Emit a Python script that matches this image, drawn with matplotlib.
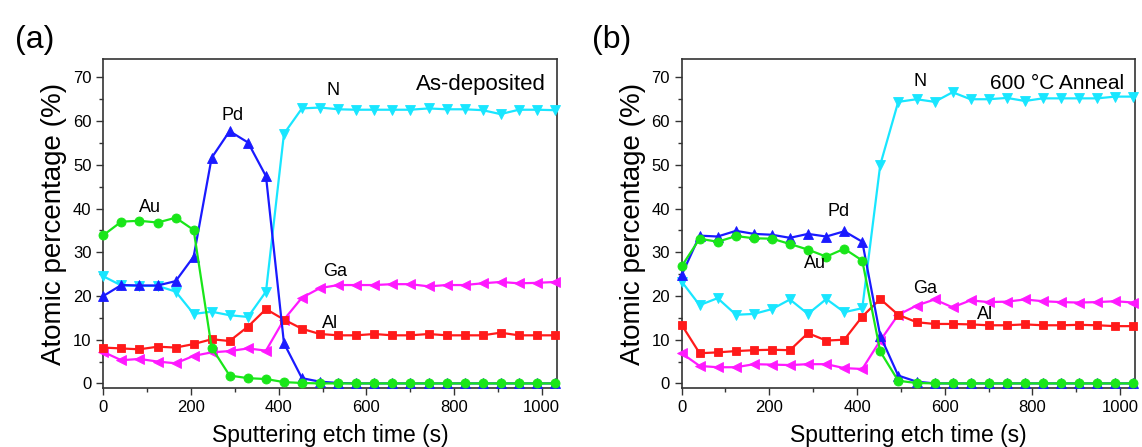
import matplotlib
matplotlib.use("Agg")
import matplotlib.pyplot as plt
from matplotlib.ticker import MultipleLocator

plt.rcParams['font.family'] = ['Liberation Sans', 'DejaVu Sans']

# ---- data ----
time_s = [0, 41, 82, 124, 165, 206, 247, 288, 330, 371, 412, 453, 494,
          536, 577, 618, 659, 700, 742, 783, 824, 865, 906, 948, 989, 1030]

# (a) As-deposited
au_a = [33.9, 37.0, 37.2, 36.8, 37.9, 35.1, 8.2, 1.8, 1.2, 1.0, 0.3, 0.1, 0,
        0, 0, 0, 0, 0, 0, 0, 0, 0, 0, 0, 0, 0]
pd_a = [20.0, 22.5, 22.4, 22.4, 23.4, 29.0, 51.6, 57.7, 55.1, 47.4, 9.2, 1.2, 0.4,
        0.1, 0, 0, 0, 0, 0, 0, 0, 0, 0, 0, 0, 0]
n_a = [24.5, 22.4, 22.3, 22.3, 21.0, 15.9, 16.4, 15.6, 15.2, 21.0, 57.1, 62.9, 63.1,
       62.7, 62.6, 62.6, 62.6, 62.6, 62.9, 62.7, 62.7, 62.5, 61.6, 62.6, 62.6, 62.5]
ga_a = [7.2, 5.3, 5.6, 5.0, 4.6, 6.3, 7.1, 7.4, 8.0, 7.5, 14.6, 19.6, 21.8,
        22.5, 22.5, 22.5, 22.7, 22.7, 22.2, 22.5, 22.5, 22.9, 23.2, 22.9, 23.0, 23.2]
al_a = [8.2, 8.0, 7.8, 8.4, 8.2, 9.0, 10.1, 9.7, 13.0, 17.0, 14.6, 12.5, 11.3,
        11.0, 11.0, 11.3, 11.0, 11.0, 11.3, 11.0, 11.0, 11.0, 11.6, 11.0, 11.0, 11.0]

# (b) 600 °C anneal
au_b = [26.8, 33.1, 32.4, 33.7, 33.2, 33.1, 31.9, 30.6, 29.0, 30.8, 28.1, 7.3, 0.6,
        0.1, 0, 0, 0, 0, 0, 0, 0, 0, 0, 0, 0, 0]
pd_b = [24.8, 33.8, 33.6, 34.9, 34.2, 34.0, 33.3, 34.2, 33.6, 34.8, 32.4, 10.9, 1.8,
        0.4, 0, 0, 0, 0, 0, 0, 0, 0, 0, 0, 0, 0]
n_b = [23.3, 17.9, 19.5, 15.7, 15.9, 17.0, 19.2, 15.9, 19.3, 16.3, 17.2, 50.0, 64.4,
       65.0, 64.4, 66.6, 65.0, 65.0, 65.3, 64.6, 65.2, 65.2, 65.2, 65.2, 65.6, 65.6]
ga_b = [6.9, 4.0, 3.7, 3.7, 4.4, 4.3, 4.2, 4.4, 4.4, 3.5, 3.3, 9.8, 15.7,
        17.8, 19.2, 17.4, 19.0, 18.6, 18.7, 19.2, 18.8, 18.6, 18.5, 18.6, 18.8, 18.5]
al_b = [13.4, 6.9, 7.1, 7.4, 7.6, 7.7, 7.6, 11.5, 9.8, 10.0, 15.3, 19.3, 15.7,
        14.0, 13.6, 13.6, 13.5, 13.3, 13.3, 13.5, 13.3, 13.3, 13.4, 13.3, 13.1, 13.1]

panel_titles = ["As-deposited", "600 °C Anneal"]
panel_tags = ["(a)", "(b)"]
element_names = ["N", "Ga", "Al", "Pd", "Au"]

# styles
styles = {
    "N":  dict(color="#19e6ff", marker="v", ms=7.0),
    "Ga": dict(color="#ff19ff", marker="<", ms=7.0),
    "Al": dict(color="#ff1a1a", marker="s", ms=5.5),
    "Pd": dict(color="#1a1aff", marker="^", ms=7.0),
    "Au": dict(color="#19e619", marker="o", ms=6.5),
}

panels = [
    dict(N=n_a, Ga=ga_a, Al=al_a, Pd=pd_a, Au=au_a),
    dict(N=n_b, Ga=ga_b, Al=al_b, Pd=pd_b, Au=au_b),
]

label_pos = [
    {"N": (524, 66.9), "Pd": (294, 61.2), "Au": (106, 40.3), "Ga": (528, 25.5), "Al": (517, 13.8)},
    {"N": (544, 69.1), "Pd": (357, 39.3), "Au": (304, 27.4), "Ga": (555, 21.6), "Al": (692, 15.7)},
]
title_sizes = [16, 15]

fig = plt.figure(figsize=(11.42, 4.47), dpi=100)
axes_rects = [[0.0905, 0.131, 0.3973, 0.736], [0.5969, 0.131, 0.3973, 0.736]]
tag_x = [0.030, 0.536]

for k in range(2):
    ax = fig.add_axes(axes_rects[k])
    data = panels[k]
    for name in element_names:
        st = styles[name]
        ax.plot(time_s, data[name], color=st["color"], marker=st["marker"],
                markersize=st["ms"], linewidth=1.6, markeredgewidth=0.6,
                markeredgecolor=st["color"], clip_on=False, zorder=3)
    for name, (x, y) in label_pos[k].items():
        ax.text(x, y, name, fontsize=13, ha="center", va="center", zorder=5)
    ax.text(0.975, 0.955, panel_titles[k], transform=ax.transAxes,
            fontsize=title_sizes[k], ha="right", va="top")
    ax.set_xlim(0, 1035)
    ax.set_ylim(-1.15, 74.1)
    ax.xaxis.set_major_locator(MultipleLocator(200))
    ax.xaxis.set_minor_locator(MultipleLocator(100))
    ax.yaxis.set_major_locator(MultipleLocator(10))
    ax.yaxis.set_minor_locator(MultipleLocator(5))
    ax.tick_params(which="both", direction="out", top=False, right=False,
                   labelsize=12, color="#333333", width=1.0)
    ax.tick_params(which="major", length=5)
    ax.tick_params(which="minor", length=3)
    for sp in ax.spines.values():
        sp.set_color("#333333")
        sp.set_linewidth(1.2)
    ax.set_xlabel("Sputtering etch time (s)", fontsize=16.5, labelpad=6)
    ax.set_ylabel("Atomic percentage (%)", fontsize=20, labelpad=4)
    fig.text(tag_x[k], 0.91, panel_tags[k], fontsize=23, ha="center", va="center")

fig.savefig("out.png", dpi=100)
